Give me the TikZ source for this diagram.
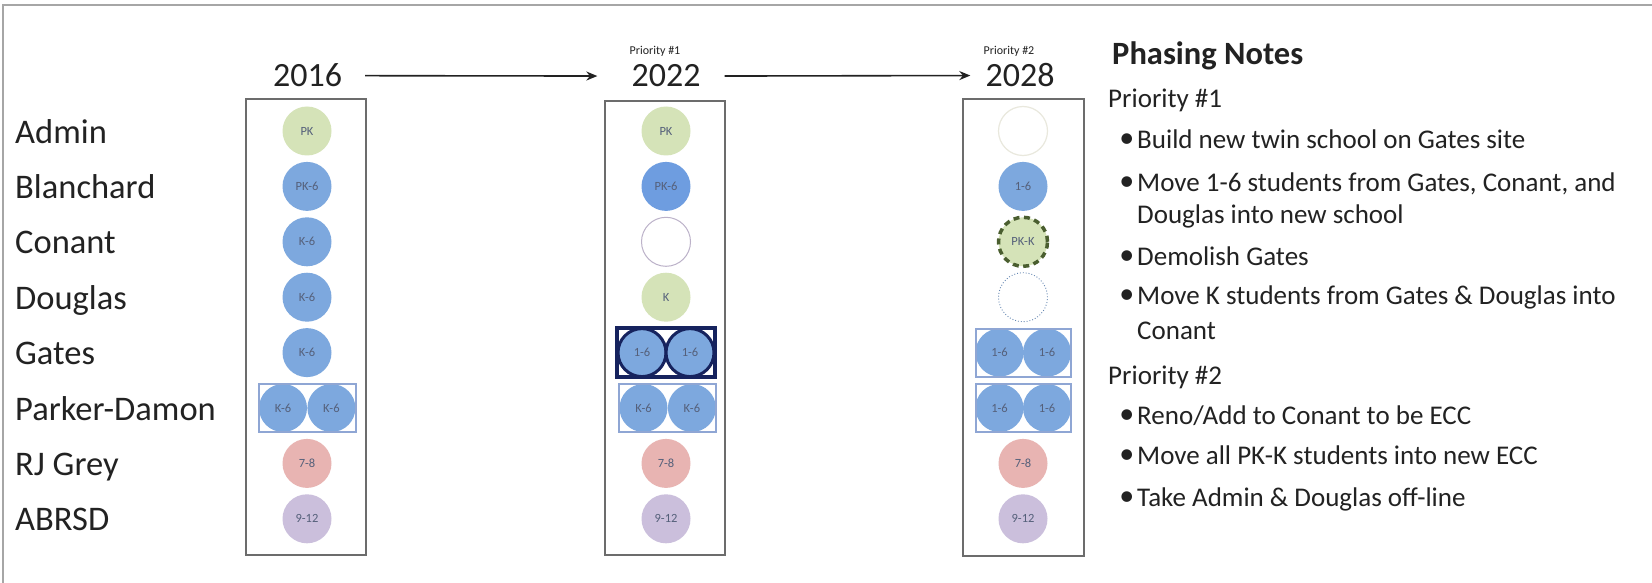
\documentclass[tikz,border=0pt]{standalone}
\usepackage{fontspec}
\setmainfont{Carlito}
\usetikzlibrary{arrows.meta}
\definecolor{blu}{HTML}{7DA8DE}
\definecolor{bludark}{HTML}{6E9DE0}
\definecolor{grn}{HTML}{D5E3B8}
\definecolor{pnk}{HTML}{E8B4B2}
\definecolor{prp}{HTML}{CBBFDC}
\definecolor{ctext}{HTML}{55607A}
\definecolor{navy}{HTML}{16235E}
\definecolor{pairline}{HTML}{8FA6D4}
\definecolor{dashgreen}{HTML}{4A5E2F}
\definecolor{txt}{HTML}{222222}
\tikzset{
  school/.style={circle, minimum size=49pt, inner sep=0pt, text=ctext, font=\fontsize{12.5}{14}\selectfont},
  pairc/.style={circle, minimum size=48pt, inner sep=0pt, fill=blu, text=ctext, font=\fontsize{12.5}{14}\selectfont},
  pairbox/.style={rectangle, minimum width=97pt, minimum height=48pt, inner sep=0pt, draw=pairline, line width=2pt},
  colbox/.style={draw=gray!85!black, line width=1.2pt},
  rowlabel/.style={anchor=base west, inner sep=0pt, text=txt, font=\fontsize{34.5}{40}\selectfont},
  year/.style={anchor=base, inner sep=0pt, text=txt, font=\fontsize{34}{40}\selectfont},
  prio/.style={anchor=base, inner sep=0pt, text=txt, font=\fontsize{12}{14}\selectfont},
  note/.style={anchor=base west, inner sep=0pt, text=txt, font=\fontsize{27}{32}\selectfont},
  arr/.style={-{Stealth[length=11pt,width=9pt]}, line width=1.6pt, draw=txt},
}
\newcommand{\blt}{\llap{\raisebox{1pt}{\fontsize{30}{32}\selectfont•}\hspace{3pt}}}
\begin{document}
\begin{tikzpicture}[x=1pt,y=-1pt]
\useasboundingbox (0,0) rectangle (1652,583);
\fill[white] (0,0) rectangle (1652,583);
\draw[gray!70, line width=1.5pt] (3,583) -- (3,5) -- (1652,5);

% row labels
\node[rowlabel] (lA) at (15,143) {Admin};
\node[rowlabel] (lB) at (15,198.4) {Blanchard};
\node[rowlabel] (lC) at (15,253.8) {Conant};
\node[rowlabel] (lD) at (15,309.2) {Douglas};
\node[rowlabel] (lG) at (15,364.6) {Gates};
\node[rowlabel] (lP) at (15,420) {Parker-Damon};
\node[rowlabel] (lR) at (15,475.4) {RJ Grey};
\node[rowlabel] (lS) at (15,530.8) {ABRSD};

% years
\node[year] (y16) at (307.5,87) {2016};
\node[year] (y22) at (666,87) {2022};
\node[year] (y28) at (1020,87) {2028};
\node[prio] (p1) at (655,55) {Priority \#1};
\node[prio] (p2) at (1009,55) {Priority \#2};
\draw[arr, shorten <=23pt, shorten >=34pt] (y16.east) -- (y22.west);
\draw[arr, shorten <=24pt, shorten >=15pt] (y22.east) -- (y28.west);

% column boxes
\draw[colbox] (246,99) rectangle (366,555);
\draw[colbox] (605,101) rectangle (725,555);
\draw[colbox] (963,99) rectangle (1084,556);

% column 2016
\node[school, fill=grn] (a1) at (307,131) {PK};
\node[school, fill=blu] (b1) at (307,186.4) {PK-6};
\node[school, fill=blu] (c1) at (307,241.8) {K-6};
\node[school, fill=blu] (d1) at (307,297.2) {K-6};
\node[school, fill=blu] (g1) at (307,352.6) {K-6};
\node[pairc] (pa1) at (283,408) {K-6};
\node[pairc] (pb1) at (331.4,408) {K-6};
\node[pairbox] (pr1) at (307.2,408) {};
\node[school, fill=pnk] (r1) at (307,463.4) {7-8};
\node[school, fill=prp] (s1) at (307,518.8) {9-12};

% column 2022
\node[school, fill=grn] (a2) at (666,131) {PK};
\node[school, fill=bludark] (b2) at (666,186.4) {PK-6};
\node[school, draw=prp!80!gray, line width=1pt] (c2) at (666,241.8) {};
\node[school, fill=grn] (d2) at (666,297.2) {K};
\node[pairc, draw=navy, line width=3pt] (ga2) at (642,352.6) {1-6};
\node[pairc, draw=navy, line width=3pt] (gb2) at (690,352.6) {1-6};
\node[pairbox, draw=navy, line width=3.5pt, minimum width=98pt, minimum height=49pt] (gr2) at (666,352.6) {};
\node[pairc] (pa2) at (643.5,408) {K-6};
\node[pairc] (pb2) at (691.9,408) {K-6};
\node[pairbox] (pr2) at (667.7,408) {};
\node[school, fill=pnk] (r2) at (666,463.4) {7-8};
\node[school, fill=prp] (s2) at (666,518.8) {9-12};

% column 2028
\node[school, draw=yellow!20!gray!25, line width=1.2pt] (a3) at (1023,131) {};
\node[school, fill=blu] (b3) at (1023,186.4) {1-6};
\node[school, fill=grn, draw=dashgreen, line width=3.5pt, dash pattern=on 6pt off 4.5pt] (c3) at (1023,241.8) {PK-K};
\node[school, draw=blu!80!black, line width=0.9pt, dotted] (d3) at (1023,297.2) {};
\node[pairc] (ga3) at (999.5,352.6) {1-6};
\node[pairc] (gb3) at (1047,352.6) {1-6};
\node[pairbox, minimum width=95pt] (gr3) at (1023.3,352.6) {};
\node[pairc] (pa3) at (999.5,408) {1-6};
\node[pairc] (pb3) at (1047,408) {1-6};
\node[pairbox, minimum width=95pt] (pr3) at (1023.3,408) {};
\node[school, fill=pnk] (r3) at (1023,463.4) {7-8};
\node[school, fill=prp] (s3) at (1023,518.8) {9-12};

% notes
\node[note, font=\fontsize{32.5}{38}\selectfont\bfseries] (nt) at (1112,65) {Phasing Notes};
\node[note] (n1) at (1108,108) {Priority \#1};
\node[note] (n2) at (1137,149) {\blt Build new twin school on Gates site};
\node[note] (n3) at (1137,191) {\blt Move 1-6 students from Gates, Conant, and};
\node[note] (n3b) at (1137,223) {Douglas into new school};
\node[note] (n4) at (1137,265) {\blt Demolish Gates};
\node[note] (n5) at (1137,304) {\blt Move K students from Gates \& Douglas into};
\node[note] (n5b) at (1137,339) {Conant};
\node[note] (n6) at (1108,384) {Priority \#2};
\node[note] (n7) at (1137,424) {\blt Reno/Add to Conant to be ECC};
\node[note] (n8) at (1137,464) {\blt Move all PK-K students into new ECC};
\node[note] (n9) at (1137,506) {\blt Take Admin \& Douglas off-line};
\end{tikzpicture}
\end{document}
